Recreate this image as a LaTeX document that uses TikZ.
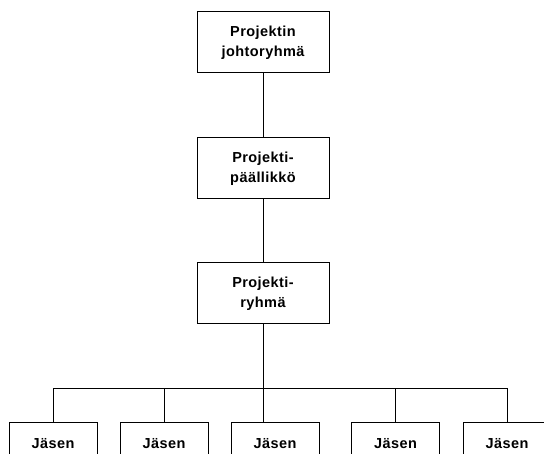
\documentclass[tikz,border=0pt]{standalone}
\usepackage{fontspec}
\setmainfont[LetterSpace=3]{Liberation Sans}
\usetikzlibrary{positioning}
\tikzset{
  orgbox/.style={draw, line width=1pt, fill=white, minimum width=132pt,
                 minimum height=61pt, inner sep=0pt, align=center,
                 font=\bfseries\fontsize{14.5}{20}\selectfont},
  memberbox/.style={orgbox, minimum width=88pt, minimum height=42pt},
  orgline/.style={line width=1pt}
}

\begin{document}
\begin{tikzpicture}[x=1pt,y=1pt]
    \useasboundingbox (0,0) rectangle (544,-454);
    \clip (0,0) rectangle (544,-454);
    \def\xC{263} \def\yBar{-389} \def\yMem{-422}

    % management column
    \node[orgbox] (johto) at (\xC,-42.5) {Projektin\\johtoryhmä};
    \node[orgbox, below=64pt of johto] (pp) {Projekti-\\päällikkö};
    \node[orgbox, below=63pt of pp] (ryhma) {Projekti-\\ryhmä};

    \draw[orgline] (johto) -- (pp);
    \draw[orgline] (pp) -- (ryhma);

    % members
    \coordinate (hub) at (\xC,\yBar);
    \draw[orgline] (ryhma) -- (hub);
    \foreach \i/\x in {1/53,2/164,3/275,4/395.5,5/507}
      \node[memberbox, anchor=north] (m\i) at (\x,\yMem) {Jäsen};

    \foreach \i in {1,2,4,5}
      \draw[orgline] (hub) -| (m\i);
    \draw[orgline] (hub) -- (hub |- m3.north);
\end{tikzpicture}
\end{document}
